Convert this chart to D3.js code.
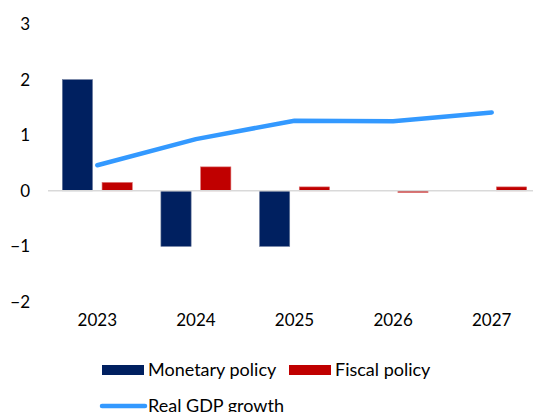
<!DOCTYPE html>
<html>
<head>
<meta charset="utf-8">
<script src="https://cdn.jsdelivr.net/npm/d3@7"></script>
<style>
  html, body { margin: 0; padding: 0; background: #fff; }
  svg { display: block; }
  text { font-family: Lato, "Open Sans", sans-serif; fill: #000; }
</style>
</head>
<body>
<svg id="chart" width="533" height="412"></svg>
<script>
// Years on the category axis
const years = ["2023", "2024", "2025", "2026", "2027"];
// Contributions (percentage points)
const monetary = [2.0, -1.0, -1.0, 0.0, 0.0];
const fiscal = [0.15, 0.43, 0.07, -0.03, 0.07];
// Real GDP growth (%)
const gdp = [0.46, 0.93, 1.26, 1.25, 1.41];
// Value-axis ticks
const yTicks = [-2, -1, 0, 1, 2, 3];

const seriesNames = ["Monetary policy", "Fiscal policy"];
const colors = { "Monetary policy": "#002060", "Fiscal policy": "#c00000", line: "#3399ff" };
const edges = { "Monetary policy": "#6a7a9c", "Fiscal policy": "#d96a6a" };

const svg = d3.select("#chart");
const plotLeft = 48, plotRight = 541, plotTop = 24, plotBottom = 302;

const x = d3.scaleBand().domain(years).range([plotLeft, plotRight]).paddingInner(0).paddingOuter(0);
const y = d3.scaleLinear().domain([-2, 3]).range([plotBottom, plotTop]);

const inner = d3.scaleBand().domain(seriesNames)
  .range([0, x.bandwidth()]).paddingInner(0.24).paddingOuter(0.36);

// Value axis labels (no axis line)
const yAxis = d3.axisLeft(y).tickValues(yTicks).tickSize(0).tickPadding(0).tickFormat(d3.format("d"));
const gy = svg.append("g").attr("transform", "translate(30,0)").call(yAxis);
gy.select(".domain").remove();
gy.selectAll("text").style("font-size", "17px").attr("font-family", null).attr("fill", "#000");

// Bars
const seriesData = seriesNames.map(name => ({
  name,
  values: (name === "Monetary policy" ? monetary : fiscal).map((v, i) => ({ year: years[i], v }))
}));
const groups = svg.append("g").selectAll("g").data(seriesData).join("g")
  .attr("fill", d => colors[d.name])
  .attr("stroke", d => edges[d.name])
  .attr("stroke-width", 0.6);
groups.selectAll("rect").data(d => d.values.filter(v => v.v !== 0).map(v => ({ ...v, name: d.name })))
  .join("rect")
  .attr("x", d => x(d.year) + inner(d.name))
  .attr("width", inner.bandwidth())
  .attr("y", d => y(Math.max(0, d.v)))
  .attr("height", d => Math.abs(y(d.v) - y(0)));

// Zero line
svg.append("line")
  .attr("x1", plotLeft).attr("x2", 533)
  .attr("y1", y(0)).attr("y2", y(0))
  .attr("stroke", "#d9d9d9").attr("stroke-width", 1.5);

// Real GDP growth line
const line = d3.line().x((d, i) => x(years[i]) + x.bandwidth() / 2).y(d => y(d));
svg.append("path").datum(gdp)
  .attr("d", line)
  .attr("fill", "none")
  .attr("stroke", colors.line)
  .attr("stroke-width", 4.5)
  .attr("stroke-linecap", "round")
  .attr("stroke-linejoin", "round");

// Category axis labels
const xAxis = d3.axisBottom(x).tickSize(0).tickPadding(0);
const gx = svg.append("g").attr("transform", "translate(0,320)").call(xAxis);
gx.select(".domain").remove();
gx.selectAll("text").style("font-size", "17px").attr("font-family", null).attr("fill", "#000").attr("dy", "0.35em");

// Legend
const legend = svg.append("g");
const legendItems = [
  { name: "Monetary policy", type: "rect", x: 102, y: 370 },
  { name: "Fiscal policy", type: "rect", x: 289, y: 370 },
  { name: "Real GDP growth", type: "line", x: 102, y: 406 }
];
legendItems.forEach(it => {
  if (it.type === "rect") {
    legend.append("rect").attr("x", it.x).attr("y", it.y - 5).attr("width", 42).attr("height", 10)
      .attr("fill", colors[it.name]);
  } else {
    legend.append("line").attr("x1", it.x).attr("x2", it.x + 43).attr("y1", it.y).attr("y2", it.y)
      .attr("stroke", colors.line).attr("stroke-width", 4.5).attr("stroke-linecap", "round");
  }
  legend.append("text").attr("x", it.x + 46).attr("y", it.y).attr("dy", "0.35em")
    .style("font-size", "18px").text(it.name);
});
</script>
</body>
</html>
